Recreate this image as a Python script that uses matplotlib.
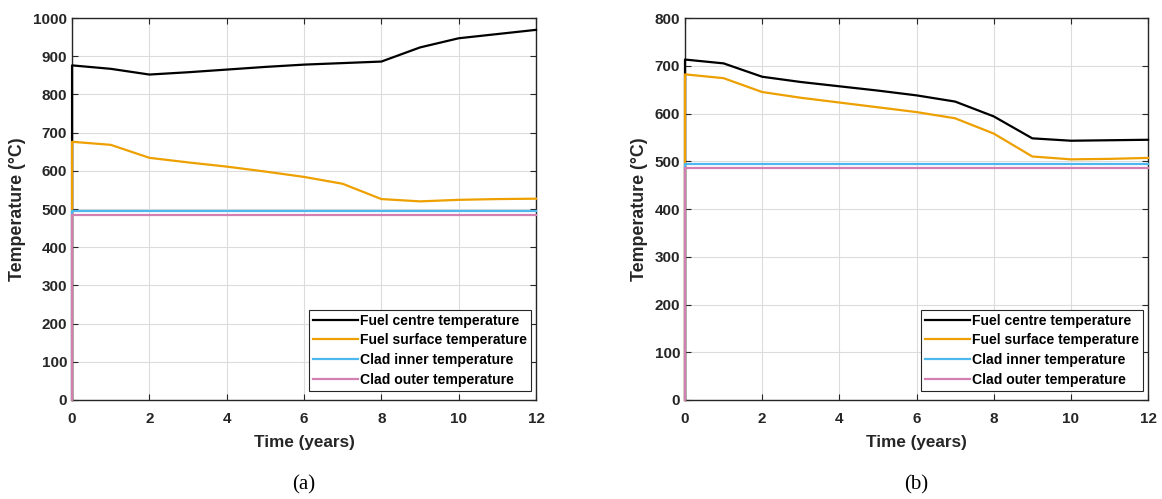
import matplotlib
matplotlib.use('Agg')
import matplotlib.pyplot as plt

# Burnup time points (years); first point is the cold start at t=0
time = [0, 0, 1, 2, 3, 4, 5, 6, 7, 8, 9, 10, 11, 12]

# Case (a)
a_centre = [0, 876, 867, 852, 858, 865, 872, 878, 882, 886, 923, 947, 958, 969]
a_surface = [0, 676, 668, 634, 622, 611, 598, 584, 566, 526, 520, 524, 526, 527]
a_clad_in = [0, 495, 495, 495, 495, 495, 495, 495, 495, 495, 495, 495, 495, 495]
a_clad_out = [0, 485, 485, 485, 485, 485, 485, 485, 485, 485, 485, 485, 485, 485]

# Case (b)
b_centre = [0, 713, 705, 677, 666, 657, 648, 638, 625, 594, 548, 543, 544, 545]
b_surface = [0, 682, 674, 645, 633, 623, 613, 603, 590, 558, 510, 504, 505, 507]
b_clad_in = [0, 495, 495, 495, 495, 495, 495, 495, 495, 495, 495, 495, 495, 495]
b_clad_out = [0, 486, 486, 486, 486, 486, 486, 486, 486, 486, 486, 486, 486, 486]

labels = ['Fuel centre temperature', 'Fuel surface temperature',
          'Clad inner temperature', 'Clad outer temperature']
colors = ['#000000', '#EDA000', '#4DB8EE', '#D27FB2']

plt.rcParams['font.family'] = ['Liberation Sans', 'DejaVu Sans']
plt.rcParams['font.weight'] = 'bold'
AX_COL = '#262626'

fig = plt.figure(figsize=(11.62, 4.99), dpi=100)
ax_a = fig.add_axes([0.062, 0.1984, 0.3993, 0.7655])
ax_b = fig.add_axes([0.5895, 0.1984, 0.3985, 0.7655])


def draw_panel(ax, series, ymax, caption):
    for vals, lab, col in zip(series, labels, colors):
        # unclipped and above the spines so the t=0 jump stays visible
        ax.plot(time, vals, color=col, lw=1.6, label=lab, zorder=3, clip_on=False)
    ax.set_xlim(0, 12)
    ax.set_ylim(0, ymax)
    ax.set_xticks(range(0, 13, 2))
    ax.set_yticks(range(0, ymax + 1, 100))
    ax.grid(True, color='#dcdcdc', lw=0.8)
    ax.set_axisbelow(True)
    ax.tick_params(direction='in', top=True, right=True, length=4,
                   labelsize=11, colors=AX_COL, width=0.8)
    ax.tick_params(axis='x', pad=9)
    for lbl in ax.get_xticklabels() + ax.get_yticklabels():
        lbl.set_fontweight('bold')
    for sp in ax.spines.values():
        sp.set_color(AX_COL)
        sp.set_linewidth(1.0)
    ax.set_xlabel('Time (years)', fontsize=12.3, fontweight='bold', color=AX_COL, labelpad=6)
    ax.set_ylabel('Temperature (°C)', fontsize=12.8, fontweight='bold', color=AX_COL, labelpad=5)
    leg = ax.legend(loc='lower right', bbox_to_anchor=(0.989, 0.024), borderaxespad=0,
                    fontsize=10.1, frameon=True, fancybox=False, framealpha=1,
                    borderpad=0.3, handlelength=3.2, handletextpad=0.15,
                    labelspacing=0.4)
    leg.get_frame().set_edgecolor(AX_COL)
    leg.get_frame().set_linewidth(0.8)
    leg.set_zorder(5)
    for t in leg.get_texts():
        t.set_fontweight('bold')
    ax.text(0.5, -0.222, caption, transform=ax.transAxes, ha='center', va='center',
            fontsize=15, fontweight='normal', family='Liberation Serif', color='black')


draw_panel(ax_a, [a_centre, a_surface, a_clad_in, a_clad_out], 1000, '(a)')
draw_panel(ax_b, [b_centre, b_surface, b_clad_in, b_clad_out], 800, '(b)')

fig.savefig('out.png', dpi=100)
